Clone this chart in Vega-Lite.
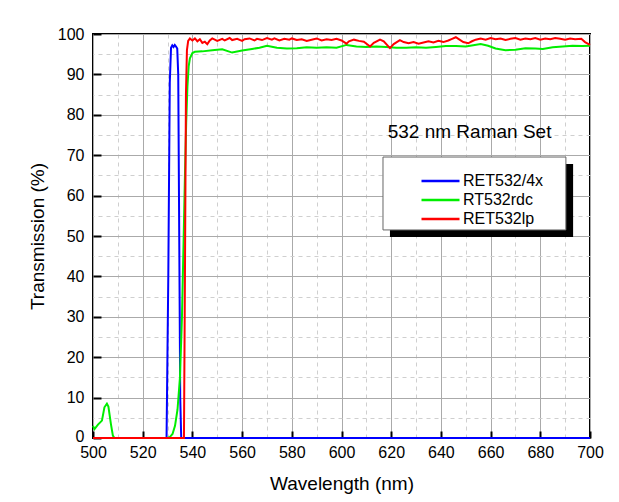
{
  "$schema": "https://vega.github.io/schema/vega-lite/v6.json",
  "autosize": "none",
  "width": 497,
  "height": 404,
  "padding": {"left": 93, "top": 34, "right": 29, "bottom": 64},
  "background": "white",
  "config": {
    "font": "Liberation Sans",
    "view": {"stroke": "black", "strokeWidth": 2},
    "axis": {
      "labelFont": "Liberation Sans",
      "titleFont": "Liberation Sans",
      "labelFontSize": 16,
      "titleFontSize": 19,
      "titleFontWeight": "normal",
      "labelColor": "black",
      "titleColor": "black",
      "domain": false
    }
  },
  "datasets": {
    "spectra": [
      {"series": "RET532/4x", "wl": 500, "t": 0},
      {"series": "RET532/4x", "wl": 529.6, "t": 0},
      {"series": "RET532/4x", "wl": 530.3, "t": 40},
      {"series": "RET532/4x", "wl": 530.9, "t": 88},
      {"series": "RET532/4x", "wl": 531.4, "t": 96.6},
      {"series": "RET532/4x", "wl": 531.9, "t": 97.2},
      {"series": "RET532/4x", "wl": 532.4, "t": 96.8},
      {"series": "RET532/4x", "wl": 532.9, "t": 97.3},
      {"series": "RET532/4x", "wl": 533.4, "t": 96.9},
      {"series": "RET532/4x", "wl": 533.9, "t": 96.4},
      {"series": "RET532/4x", "wl": 534.3, "t": 90},
      {"series": "RET532/4x", "wl": 534.7, "t": 50},
      {"series": "RET532/4x", "wl": 535.1, "t": 10},
      {"series": "RET532/4x", "wl": 535.5, "t": 0},
      {"series": "RET532/4x", "wl": 700, "t": 0},

      {"series": "RT532rdc", "wl": 500, "t": 3},
      {"series": "RT532rdc", "wl": 500.6, "t": 2.2},
      {"series": "RT532rdc", "wl": 502, "t": 3.3},
      {"series": "RT532rdc", "wl": 503.6, "t": 4.3},
      {"series": "RT532rdc", "wl": 504.6, "t": 7.6},
      {"series": "RT532rdc", "wl": 505.6, "t": 8.5},
      {"series": "RT532rdc", "wl": 506.2, "t": 7.8},
      {"series": "RT532rdc", "wl": 507.2, "t": 3.5},
      {"series": "RT532rdc", "wl": 508, "t": 0.6},
      {"series": "RT532rdc", "wl": 508.6, "t": 0},
      {"series": "RT532rdc", "wl": 530, "t": 0},
      {"series": "RT532rdc", "wl": 531, "t": 0.3},
      {"series": "RT532rdc", "wl": 532, "t": 1},
      {"series": "RT532rdc", "wl": 533, "t": 3},
      {"series": "RT532rdc", "wl": 534, "t": 7},
      {"series": "RT532rdc", "wl": 535, "t": 15},
      {"series": "RT532rdc", "wl": 535.8, "t": 30},
      {"series": "RT532rdc", "wl": 536.5, "t": 50},
      {"series": "RT532rdc", "wl": 537, "t": 65},
      {"series": "RT532rdc", "wl": 537.5, "t": 78},
      {"series": "RT532rdc", "wl": 538, "t": 87},
      {"series": "RT532rdc", "wl": 538.5, "t": 92},
      {"series": "RT532rdc", "wl": 539, "t": 94},
      {"series": "RT532rdc", "wl": 540, "t": 95.3},
      {"series": "RT532rdc", "wl": 541, "t": 95.6},
      {"series": "RT532rdc", "wl": 544, "t": 95.7},
      {"series": "RT532rdc", "wl": 548, "t": 96.0},
      {"series": "RT532rdc", "wl": 552, "t": 96.2},
      {"series": "RT532rdc", "wl": 556, "t": 95.4},
      {"series": "RT532rdc", "wl": 560, "t": 95.9},
      {"series": "RT532rdc", "wl": 564, "t": 96.3},
      {"series": "RT532rdc", "wl": 567, "t": 96.6},
      {"series": "RT532rdc", "wl": 570, "t": 97.1},
      {"series": "RT532rdc", "wl": 574, "t": 96.6},
      {"series": "RT532rdc", "wl": 578, "t": 96.4},
      {"series": "RT532rdc", "wl": 582, "t": 96.5},
      {"series": "RT532rdc", "wl": 586, "t": 96.7},
      {"series": "RT532rdc", "wl": 590, "t": 96.6},
      {"series": "RT532rdc", "wl": 594, "t": 96.7},
      {"series": "RT532rdc", "wl": 598, "t": 96.6},
      {"series": "RT532rdc", "wl": 602, "t": 97.3},
      {"series": "RT532rdc", "wl": 606, "t": 96.9},
      {"series": "RT532rdc", "wl": 610, "t": 96.8},
      {"series": "RT532rdc", "wl": 614, "t": 96.9},
      {"series": "RT532rdc", "wl": 618, "t": 96.8},
      {"series": "RT532rdc", "wl": 622, "t": 96.6},
      {"series": "RT532rdc", "wl": 626, "t": 96.6},
      {"series": "RT532rdc", "wl": 630, "t": 96.7},
      {"series": "RT532rdc", "wl": 634, "t": 96.6},
      {"series": "RT532rdc", "wl": 638, "t": 96.8},
      {"series": "RT532rdc", "wl": 642, "t": 97.0},
      {"series": "RT532rdc", "wl": 646, "t": 97.0},
      {"series": "RT532rdc", "wl": 650, "t": 96.9},
      {"series": "RT532rdc", "wl": 653, "t": 97.2},
      {"series": "RT532rdc", "wl": 656, "t": 97.5},
      {"series": "RT532rdc", "wl": 659, "t": 97.1},
      {"series": "RT532rdc", "wl": 662, "t": 96.4},
      {"series": "RT532rdc", "wl": 666, "t": 96.0},
      {"series": "RT532rdc", "wl": 670, "t": 96.1},
      {"series": "RT532rdc", "wl": 674, "t": 96.5},
      {"series": "RT532rdc", "wl": 678, "t": 96.4},
      {"series": "RT532rdc", "wl": 681, "t": 96.3},
      {"series": "RT532rdc", "wl": 685, "t": 96.7},
      {"series": "RT532rdc", "wl": 689, "t": 96.9},
      {"series": "RT532rdc", "wl": 693, "t": 97.1},
      {"series": "RT532rdc", "wl": 697, "t": 97.0},
      {"series": "RT532rdc", "wl": 700, "t": 97.1},

      {"series": "RET532lp", "wl": 500, "t": 0},
      {"series": "RET532lp", "wl": 536.6, "t": 0},
      {"series": "RET532lp", "wl": 537.0, "t": 40},
      {"series": "RET532lp", "wl": 537.4, "t": 85},
      {"series": "RET532lp", "wl": 537.8, "t": 96},
      {"series": "RET532lp", "wl": 538.3, "t": 98.3},
      {"series": "RET532lp", "wl": 539, "t": 98.9},
      {"series": "RET532lp", "wl": 540, "t": 98.4},
      {"series": "RET532lp", "wl": 541, "t": 98.9},
      {"series": "RET532lp", "wl": 542, "t": 98.2},
      {"series": "RET532lp", "wl": 543, "t": 98.7},
      {"series": "RET532lp", "wl": 544, "t": 97.8},
      {"series": "RET532lp", "wl": 545, "t": 98.1},
      {"series": "RET532lp", "wl": 546, "t": 97.5},
      {"series": "RET532lp", "wl": 547, "t": 98.4},
      {"series": "RET532lp", "wl": 548, "t": 98.9},
      {"series": "RET532lp", "wl": 550, "t": 98.3},
      {"series": "RET532lp", "wl": 552, "t": 98.8},
      {"series": "RET532lp", "wl": 553, "t": 98.4},
      {"series": "RET532lp", "wl": 555, "t": 99.0},
      {"series": "RET532lp", "wl": 556, "t": 98.5},
      {"series": "RET532lp", "wl": 558, "t": 98.8},
      {"series": "RET532lp", "wl": 560, "t": 98.3},
      {"series": "RET532lp", "wl": 561, "t": 98.7},
      {"series": "RET532lp", "wl": 563, "t": 98.9},
      {"series": "RET532lp", "wl": 565, "t": 98.4},
      {"series": "RET532lp", "wl": 566, "t": 98.8},
      {"series": "RET532lp", "wl": 568, "t": 98.5},
      {"series": "RET532lp", "wl": 570, "t": 99.0},
      {"series": "RET532lp", "wl": 572, "t": 98.6},
      {"series": "RET532lp", "wl": 573, "t": 98.9},
      {"series": "RET532lp", "wl": 575, "t": 98.4},
      {"series": "RET532lp", "wl": 577, "t": 98.8},
      {"series": "RET532lp", "wl": 579, "t": 98.6},
      {"series": "RET532lp", "wl": 580, "t": 98.9},
      {"series": "RET532lp", "wl": 582, "t": 98.5},
      {"series": "RET532lp", "wl": 584, "t": 98.7},
      {"series": "RET532lp", "wl": 586, "t": 98.3},
      {"series": "RET532lp", "wl": 588, "t": 98.6},
      {"series": "RET532lp", "wl": 590, "t": 98.9},
      {"series": "RET532lp", "wl": 592, "t": 98.4},
      {"series": "RET532lp", "wl": 594, "t": 98.7},
      {"series": "RET532lp", "wl": 596, "t": 98.5},
      {"series": "RET532lp", "wl": 598, "t": 98.8},
      {"series": "RET532lp", "wl": 600, "t": 98.4},
      {"series": "RET532lp", "wl": 602, "t": 97.6},
      {"series": "RET532lp", "wl": 603, "t": 98.2},
      {"series": "RET532lp", "wl": 605, "t": 98.6},
      {"series": "RET532lp", "wl": 607, "t": 98.3},
      {"series": "RET532lp", "wl": 609, "t": 98.1},
      {"series": "RET532lp", "wl": 611.5, "t": 96.9},
      {"series": "RET532lp", "wl": 613, "t": 97.8},
      {"series": "RET532lp", "wl": 615.5, "t": 98.6},
      {"series": "RET532lp", "wl": 617, "t": 98.2},
      {"series": "RET532lp", "wl": 619.5, "t": 96.5},
      {"series": "RET532lp", "wl": 621, "t": 97.5},
      {"series": "RET532lp", "wl": 623.5, "t": 98.5},
      {"series": "RET532lp", "wl": 625, "t": 98.0},
      {"series": "RET532lp", "wl": 627, "t": 97.7},
      {"series": "RET532lp", "wl": 629, "t": 98.0},
      {"series": "RET532lp", "wl": 631, "t": 97.6},
      {"series": "RET532lp", "wl": 633, "t": 97.9},
      {"series": "RET532lp", "wl": 635, "t": 98.2},
      {"series": "RET532lp", "wl": 637, "t": 97.9},
      {"series": "RET532lp", "wl": 639, "t": 98.3},
      {"series": "RET532lp", "wl": 641, "t": 98.0},
      {"series": "RET532lp", "wl": 643, "t": 98.4},
      {"series": "RET532lp", "wl": 644.5, "t": 98.8},
      {"series": "RET532lp", "wl": 646, "t": 99.2},
      {"series": "RET532lp", "wl": 647.5, "t": 98.6},
      {"series": "RET532lp", "wl": 649, "t": 98.0},
      {"series": "RET532lp", "wl": 651, "t": 97.7},
      {"series": "RET532lp", "wl": 652.5, "t": 98.2},
      {"series": "RET532lp", "wl": 654, "t": 98.6},
      {"series": "RET532lp", "wl": 656, "t": 98.9},
      {"series": "RET532lp", "wl": 658, "t": 98.6},
      {"series": "RET532lp", "wl": 660, "t": 99.0},
      {"series": "RET532lp", "wl": 662, "t": 98.7},
      {"series": "RET532lp", "wl": 664, "t": 98.9},
      {"series": "RET532lp", "wl": 666, "t": 98.5},
      {"series": "RET532lp", "wl": 668, "t": 98.8},
      {"series": "RET532lp", "wl": 670, "t": 99.0},
      {"series": "RET532lp", "wl": 672, "t": 98.6},
      {"series": "RET532lp", "wl": 674, "t": 98.9},
      {"series": "RET532lp", "wl": 676, "t": 98.7},
      {"series": "RET532lp", "wl": 678, "t": 99.0},
      {"series": "RET532lp", "wl": 680, "t": 98.6},
      {"series": "RET532lp", "wl": 682, "t": 98.9},
      {"series": "RET532lp", "wl": 684, "t": 98.7},
      {"series": "RET532lp", "wl": 686, "t": 99.0},
      {"series": "RET532lp", "wl": 688, "t": 98.8},
      {"series": "RET532lp", "wl": 690, "t": 98.6},
      {"series": "RET532lp", "wl": 692, "t": 98.9},
      {"series": "RET532lp", "wl": 694, "t": 98.7},
      {"series": "RET532lp", "wl": 696.5, "t": 98.8},
      {"series": "RET532lp", "wl": 698, "t": 98.0},
      {"series": "RET532lp", "wl": 700, "t": 97.3}
    ],
    "shadow": [{"xa": 619.5, "xb": 693.2, "ya": 67.8, "yb": 49.75}],
    "box": [{"xa": 616.7, "xb": 690.3, "ya": 69.55, "yb": 51.5}],
    "label": [{"wl": 618.6, "t": 75.7, "text": "532 nm Raman Set"}]
  },
  "resolve": {"axis": {"x": "independent", "y": "independent"}},
  "layer": [
    {
      "data": {"name": "spectra"},
      "mark": {"type": "line", "opacity": 0},
      "encoding": {
        "x": {
          "field": "wl", "type": "quantitative",
          "scale": {"domain": [500, 700], "nice": false, "zero": false},
          "axis": {
            "orient": "top", "title": null, "labels": false, "ticks": false, "domain": false,
            "values": [510, 530, 550, 570, 590, 610, 630, 650, 670, 690],
            "grid": true, "gridColor": "#cfcfcf", "gridDash": [4, 4], "gridWidth": 1
          }
        },
        "y": {
          "field": "t", "type": "quantitative",
          "scale": {"domain": [0, 100], "nice": false},
          "axis": {
            "orient": "right", "title": null, "labels": false, "ticks": false, "domain": false,
            "values": [5, 15, 25, 35, 45, 55, 65, 75, 85, 95],
            "grid": true, "gridColor": "#cfcfcf", "gridDash": [4, 4], "gridWidth": 1
          }
        },
        "detail": {"field": "series"}
      }
    },
    {
      "data": {"name": "spectra"},
      "mark": {"type": "line", "strokeWidth": 2},
      "encoding": {
        "x": {
          "field": "wl", "type": "quantitative",
          "scale": {"domain": [500, 700], "nice": false, "zero": false},
          "axis": {
            "orient": "bottom", "title": "Wavelength (nm)",
            "values": [500, 520, 540, 560, 580, 600, 620, 640, 660, 680, 700],
            "grid": true, "gridColor": "#aaaaaa", "gridWidth": 1,
            "ticks": true, "tickSize": -7, "tickWidth": 2, "tickColor": "black",
            "labelPadding": 13, "titlePadding": 14, "labelFlush": false
          }
        },
        "y": {
          "field": "t", "type": "quantitative",
          "scale": {"domain": [0, 100], "nice": false},
          "axis": {
            "orient": "left", "title": "Transmission (%)",
            "values": [0, 10, 20, 30, 40, 50, 60, 70, 80, 90, 100],
            "grid": true, "gridColor": "#aaaaaa", "gridWidth": 1,
            "ticks": true, "tickSize": -8, "tickWidth": 2, "tickColor": "black",
            "labelPadding": 17, "titlePadding": 10, "labelFlush": false,
            "labelOffset": {"condition": {"test": "datum.value === 0", "value": -2}, "value": 0}
          }
        },
        "color": {
          "field": "series", "type": "nominal",
          "scale": {
            "domain": ["RET532/4x", "RT532rdc", "RET532lp"],
            "range": ["#0000ff", "#00ee00", "#ff0000"]
          },
          "legend": {
            "orient": "none", "legendX": 290, "legendY": 123,
            "title": " ", "titleFontSize": 10, "titlePadding": 3,
            "padding": 3,
            "symbolType": "stroke", "symbolSize": 1444, "symbolStrokeWidth": 2.5,
            "symbolOffset": 34, "labelOffset": 2, "rowPadding": 3, "clipHeight": 16,
            "labelFont": "Liberation Sans", "labelFontSize": 16, "labelColor": "black"
          }
        }
      }
    },
    {
      "data": {"name": "shadow"},
      "mark": {"type": "rect", "color": "black"},
      "encoding": {
        "x": {"field": "xa", "type": "quantitative", "axis": null},
        "x2": {"field": "xb"},
        "y": {"field": "ya", "type": "quantitative", "axis": null},
        "y2": {"field": "yb"}
      }
    },
    {
      "data": {"name": "box"},
      "mark": {"type": "rect", "fill": "white", "stroke": "#666666", "strokeWidth": 1},
      "encoding": {
        "x": {"field": "xa", "type": "quantitative", "axis": null},
        "x2": {"field": "xb"},
        "y": {"field": "ya", "type": "quantitative", "axis": null},
        "y2": {"field": "yb"}
      }
    },
    {
      "data": {"name": "label"},
      "mark": {"type": "text", "align": "left", "baseline": "middle", "fontSize": 19, "font": "Liberation Sans", "color": "black"},
      "encoding": {
        "x": {"field": "wl", "type": "quantitative", "axis": null},
        "y": {"field": "t", "type": "quantitative", "axis": null},
        "text": {"field": "text"}
      }
    }
  ]
}
